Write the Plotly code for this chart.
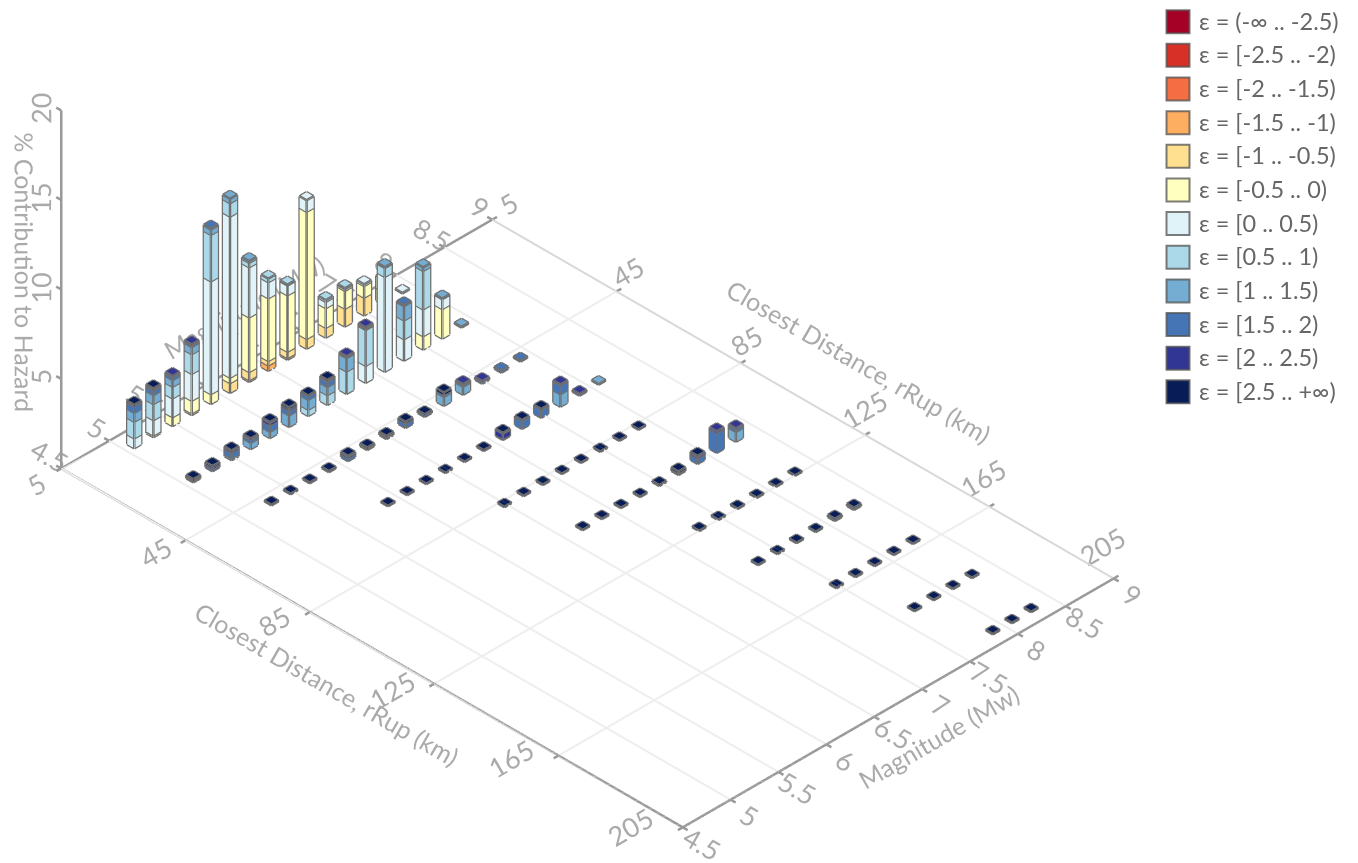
import plotly.graph_objects as go

EPS_LABELS = ["ε = (-∞ .. -2.5)", "ε = [-2.5 .. -2)", "ε = [-2 .. -1.5)", "ε = [-1.5 .. -1)",
              "ε = [-1 .. -0.5)", "ε = [-0.5 .. 0)", "ε = [0 .. 0.5)", "ε = [0.5 .. 1)",
              "ε = [1 .. 1.5)", "ε = [1.5 .. 2)", "ε = [2 .. 2.5)", "ε = [2.5 .. +∞)"]
EPS_COLORS = ["#a50026", "#d73027", "#f46d43", "#fdae61", "#fee090", "#ffffbf",
              "#e0f3f8", "#abd9e9", "#74add1", "#4575b4", "#313695", "#081d58"]

RRUP = [10, 29, 48, 67, 86, 105, 124, 143, 162, 181, 200]
MAGS = [[5.1, 5.3, 5.5, 5.7, 5.9, 6.1, 6.3, 6.5, 6.7, 6.9, 7.1, 7.3, 7.5, 7.7, 7.9],
        [5.1, 5.3, 5.5, 5.7, 5.9, 6.1, 6.3, 6.5, 6.7, 6.9, 7.1, 7.3, 7.5, 7.7, 7.9],
        [5.3, 5.5, 5.7, 5.9, 6.1, 6.3, 6.5, 6.7, 6.9, 7.1, 7.3, 7.5, 7.7, 7.9],
        [5.9, 6.1, 6.3, 6.5, 6.7, 6.9, 7.1, 7.3, 7.5, 7.7, 7.9, 8.1],
        [6.5, 6.7, 6.9, 7.1, 7.3, 7.5, 7.7, 7.9],
        [6.7, 6.9, 7.1, 7.3, 7.5, 7.7, 7.9, 8.1, 8.3],
        [7.3, 7.5, 7.7, 7.9, 8.1, 8.3],
        [7.3, 7.5, 7.7, 7.9, 8.1, 8.3],
        [7.5, 7.7, 7.9, 8.1, 8.3],
        [7.7, 7.9, 8.1, 8.3],
        [7.9, 8.1, 8.3]]

# each bar: % for eps bins [-1.5,-1) [-1,-.5) [-.5,0) [0,.5) [.5,1) [1,1.5) [1.5,2) [2,2.5) [2.5,inf)
R1 = [[0, 0, 0, .55, .93, .5, .35, .05, .05],
      [0, 0, .1, .85, .9, .5, .25, .05, .08],
      [0, 0, .5, 1.05, .65, .37, .15, .08, 0],
      [0, .1, .7, 1.5, 1.1, .4, .1, .05, 0],
      [0, 0, .55, 6.3, 2.6, .3, .05, 0, 0],
      [0, .55, .3, 9.0, .75, .25, 0, 0, 0],
      [.1, .45, 3.05, 2.8, .25, .1, 0, 0, 0],
      [.3, .25, 3.5, .9, .2, 0, 0, 0, 0],
      [.1, .35, 3.15, .55, .05, 0, 0, 0, 0],
      [0, .55, 7.1, .65, 0, 0, 0, 0, 0],
      [0, .55, 1.1, .35, .1, 0, 0, 0, 0],
      [0, 1.0, 1.0, .1, .05, 0, 0, 0, 0],
      [0, 1.0, .65, .1, 0, 0, 0, 0, 0],
      [0, .7, .7, 0, 0, 0, 0, 0, 0],
      [0, 0, 0, .03, 0, 0, 0, 0, 0]]
R2 = [[0, 0, 0, 0, 0, 0, .05, .05, .08],
      [0, 0, 0, 0, 0, 0, .1, .1, .1],
      [0, 0, 0, 0, 0, .1, .3, .1, .05],
      [0, 0, 0, 0, 0, .35, .15, .05, .05],
      [0, 0, 0, 0, 0, .35, .35, .15, .05],
      [0, 0, 0, 0, 0, .65, .25, .1, .1],
      [0, 0, 0, 0, .35, .55, .2, 0, .05],
      [0, 0, 0, 0, .55, .45, .3, .05, .05],
      [0, 0, 0, 0, 1.25, .75, .05, .05, 0],
      [0, 0, 0, .95, 2.0, .05, .05, .05, 0],
      [0, 0, 0, 5.3, .5, .05, 0, 0, 0],
      [0, 0, 0, 1.2, 1.05, .8, .05, 0, 0],
      [0, 0, .75, 1.5, 2.15, .2, 0, 0, 0],
      [0, 0, 1.65, .55, .02, .02, 0, 0, 0],
      [0, 0, 0, 0, 0, .04, 0, 0, 0]]
R3 = [[0, 0, 0, 0, 0, 0, 0, 0, .04],
      [0, 0, 0, 0, 0, 0, 0, 0, .04],
      [0, 0, 0, 0, 0, 0, 0, 0, .05],
      [0, 0, 0, 0, 0, 0, 0, .02, .05],
      [0, 0, 0, 0, 0, 0, .15, .1, .05],
      [0, 0, 0, 0, 0, 0, .05, .05, .05],
      [0, 0, 0, 0, 0, 0, .08, .05, .05],
      [0, 0, 0, 0, 0, 0, .25, 0, .1],
      [0, 0, 0, 0, 0, 0, .1, 0, .05],
      [0, 0, 0, 0, 0, .5, .1, 0, .15],
      [0, 0, 0, 0, 0, .45, .1, .05, 0],
      [0, 0, 0, 0, 0, 0, .1, .05, 0],
      [0, 0, 0, 0, 0, 0, .1, 0, 0],
      [0, 0, 0, 0, 0, 0, .05, 0, 0]]
R4 = [[0, 0, 0, 0, 0, 0, 0, 0, .03],
      [0, 0, 0, 0, 0, 0, 0, 0, .03],
      [0, 0, 0, 0, 0, 0, 0, 0, .03],
      [0, 0, 0, 0, 0, 0, 0, 0, .03],
      [0, 0, 0, 0, 0, 0, 0, 0, .03],
      [0, 0, 0, 0, 0, 0, 0, 0, .05],
      [0, 0, 0, 0, 0, 0, .05, .3, .05],
      [0, 0, 0, 0, 0, 0, .45, 0, .05],
      [0, 0, 0, 0, 0, 0, .45, 0, .05],
      [0, 0, 0, 0, 0, .7, .5, .05, 0],
      [0, 0, 0, 0, 0, 0, .05, .05, 0],
      [0, 0, 0, 0, 0, .03, 0, 0, 0]]
R5 = [[0, 0, 0, 0, 0, 0, 0, 0, .03]] * 8
R6 = [[0, 0, 0, 0, 0, 0, 0, 0, .03],
      [0, 0, 0, 0, 0, 0, 0, 0, .03],
      [0, 0, 0, 0, 0, 0, 0, 0, .03],
      [0, 0, 0, 0, 0, 0, 0, 0, .03],
      [0, 0, 0, 0, 0, 0, 0, 0, .06],
      [0, 0, 0, 0, 0, 0, .05, .05, .1],
      [0, 0, 0, 0, 0, 0, .3, .1, .05],
      [0, 0, 0, 0, 0, 0, 1.1, .1, 0],
      [0, 0, 0, 0, 0, .55, .15, .05, 0]]
R7 = [[0, 0, 0, 0, 0, 0, 0, 0, .03]] * 6
R8 = [[0, 0, 0, 0, 0, 0, 0, 0, .03],
      [0, 0, 0, 0, 0, 0, 0, 0, .03],
      [0, 0, 0, 0, 0, 0, 0, 0, .03],
      [0, 0, 0, 0, 0, 0, 0, 0, .03],
      [0, 0, 0, 0, 0, 0, .05, 0, .08],
      [0, 0, 0, 0, 0, 0, .05, 0, .08]]
R9 = [[0, 0, 0, 0, 0, 0, 0, 0, .03]] * 5
R10 = [[0, 0, 0, 0, 0, 0, 0, 0, .03]] * 4
R11 = [[0, 0, 0, 0, 0, 0, 0, 0, .03]] * 3
ROWS = [R1, R2, R3, R4, R5, R6, R7, R8, R9, R10, R11]

X_TICKS = [5, 45, 85, 125, 165, 205]
Y_TICKS = [4.5, 5, 5.5, 6, 6.5, 7, 7.5, 8, 8.5, 9]
Z_TICKS = [5, 10, 15, 20]
X_RANGE = [5, 205]
Y_RANGE = [4.5, 9]
Z_RANGE = [0, 20]
BAR_DX = 2.25
BAR_DY = 0.073
X_TITLE = "Closest Distance, rRup (km)"
Y_TITLE = "Magnitude (Mw)"
Z_TITLE = "% Contribution to Hazard"

FONT = "Lato, sans-serif"
TXT = "#aaaaaa"
AXC = "#999999"
W, H = 1350, 855
BASE_ASPECT = dict(x=2.056, y=1.4256, z=1.0256)
EYE = 1.25
CENTER = dict(x=0.158, y=0.158, z=-0.2607)
PX_XY = 608   # px slid sideways per scene unit of (x + y)
PX_Z = 351    # px slid vertically per scene unit of z
TICK_FONT = 18
TITLE_FONT = 25
STUB_X = 1.6   # km
STUB_Y = 0.05  # Mw
PAD_X = 2.0
PAD_Y = 0.06
XR = [X_RANGE[0] - PAD_X, X_RANGE[1] + PAD_X]
YR = [Y_RANGE[0] - PAD_Y, Y_RANGE[1] + PAD_Y]
ASPECT = dict(x=BASE_ASPECT["x"] * (XR[1] - XR[0]) / (X_RANGE[1] - X_RANGE[0]),
              y=BASE_ASPECT["y"] * (YR[1] - YR[0]) / (Y_RANGE[1] - Y_RANGE[0]),
              z=BASE_ASPECT["z"])
# x tick labels in the reference sit slightly closer together than their ticks
XR_LABELS = [105 - 106.8, 105 + 106.8]


def cam(dx=0.0, dy=0.0, up=(0, 0, 1)):
    """Same view, with the picture slid dx px right and dy px down."""
    c = dict(x=CENTER["x"] - dx / PX_XY, y=CENTER["y"] - dx / PX_XY, z=CENTER["z"] + dy / PX_Z)
    return dict(eye=dict(x=c["x"] + EYE, y=c["y"] - EYE, z=c["z"] + EYE),
                up=dict(x=up[0], y=up[1], z=up[2]), center=c, projection=dict(type="orthographic"))


def hidden(rng):
    return dict(range=rng, autorange=False, visible=False, showgrid=False, zeroline=False,
                showbackground=False, showspikes=False)


def shown(rng, title="", ticks=None, **kw):
    d = dict(range=rng, autorange=False, showgrid=False, zeroline=False, showbackground=False,
             showspikes=False, showline=False, ticks="",
             title=dict(text=title, font=dict(family=FONT, size=TITLE_FONT, color=TXT)),
             tickmode="array", tickvals=ticks or [], ticktext=[str(t) for t in (ticks or [])],
             showticklabels=bool(ticks), tickfont=dict(family=FONT, size=TICK_FONT, color=TXT))
    d.update(kw)
    return d


fig = go.Figure()
scenes = {}


def text_scene(axis_name, rng, title, ticks, dx, dy, up=(0, 0, 1), **kw):
    """A scene that carries only one axis's tick labels or title, slid into place."""
    name = "scene" if not scenes else f"scene{len(scenes) + 1}"
    axes = dict(xaxis=hidden(XR), yaxis=hidden(YR), zaxis=hidden(Z_RANGE))
    axes[axis_name + "axis"] = shown(rng, title, ticks, **kw)
    scenes[name] = dict(domain=dict(x=[0, 1], y=[0, 1]), aspectmode="manual", aspectratio=ASPECT,
                        camera=cam(dx, dy, up), **axes)
    fig.add_trace(go.Scatter3d(x=[X_TICKS[0]], y=[Y_TICKS[0]], z=[0], mode="markers",
                               marker=dict(size=1, color="white"), scene=name,
                               showlegend=False, hoverinfo="skip"))


text_scene("x", XR_LABELS, "", X_TICKS, -20.2, -2.3)
text_scene("x", XR, X_TITLE, None, -19.4, 22.3)
text_scene("x", XR_LABELS, "", X_TICKS, 454.7, -284.4)
text_scene("x", XR, X_TITLE, None, 515.5, -301.9)
text_scene("y", YR, "", Y_TICKS, -0.8, 5.6)
text_scene("y", YR, Y_TITLE, None, 14.5, 19.8)
text_scene("y", YR, "", Y_TICKS, -657, -384.5)
text_scene("y", YR, Y_TITLE, None, -684, -412.3)
text_scene("z", Z_RANGE, "", Z_TICKS, 4.9, -9.3, up=(0.006, 0.006, 1), tickangle=-90)
text_scene("z", Z_RANGE, Z_TITLE, None, -4.3, -29.8, up=(0.006, 0.006, 1))

MAIN = f"scene{len(scenes) + 1}"
scenes[MAIN] = dict(domain=dict(x=[0, 1], y=[0, 1]), aspectmode="manual", camera=cam(), aspectratio=ASPECT,
                    xaxis=hidden(XR), yaxis=hidden(YR), zaxis=hidden(Z_RANGE))

# floor grid
gx, gy, gz = [], [], []
for t in X_TICKS:
    gx += [t, t, None]; gy += [Y_RANGE[0], Y_RANGE[1], None]; gz += [0, 0, None]
for t in Y_TICKS:
    gx += [X_RANGE[0], X_RANGE[1], None]; gy += [t, t, None]; gz += [0, 0, None]
fig.add_trace(go.Scatter3d(x=gx, y=gy, z=gz, mode="lines", line=dict(color="#eeeeee", width=4),
                           scene=MAIN, showlegend=False, hoverinfo="skip"))
# back x edge
fig.add_trace(go.Scatter3d(x=X_RANGE, y=[Y_RANGE[1]] * 2, z=[0, 0], mode="lines", line=dict(color="#d8d8d8", width=4),
                           scene=MAIN, showlegend=False, hoverinfo="skip"))
# solid axis lines and tick stubs
ax_x = [X_RANGE[0], X_RANGE[1], X_RANGE[1], None, X_RANGE[0], X_RANGE[0], None, X_RANGE[0], X_RANGE[0]]
ax_y = [Y_RANGE[0], Y_RANGE[0], Y_RANGE[1], None, Y_RANGE[0], Y_RANGE[1], None, Y_RANGE[0], Y_RANGE[0]]
ax_z = [0, 0, 0, None, 0, 0, None, 0, Z_RANGE[1]]
for t in X_TICKS:
    ax_x += [None, t, t, None, t, t]
    ax_y += [None, Y_RANGE[0], Y_RANGE[0] - STUB_Y, None, Y_RANGE[1], Y_RANGE[1] + STUB_Y]
    ax_z += [None, 0, 0, None, 0, 0]
for t in Y_TICKS:
    ax_x += [None, X_RANGE[0], X_RANGE[0] - STUB_X, None, X_RANGE[1], X_RANGE[1] + STUB_X]
    ax_y += [None, t, t, None, t, t]
    ax_z += [None, 0, 0, None, 0, 0]
for t in Z_TICKS:
    ax_x += [None, X_RANGE[0], X_RANGE[0] - STUB_X]
    ax_y += [None, Y_RANGE[0], Y_RANGE[0]]
    ax_z += [None, t, t]
fig.add_trace(go.Scatter3d(x=ax_x, y=ax_y, z=ax_z, mode="lines", line=dict(color=AXC, width=5),
                           scene=MAIN, showlegend=False, hoverinfo="skip"))

# stacked boxes
FACES_I = [0, 0, 4, 4, 0, 0, 1, 1, 2, 2, 3, 3]
FACES_J = [1, 2, 5, 6, 1, 5, 2, 6, 3, 7, 0, 4]
FACES_K = [2, 3, 6, 7, 5, 4, 6, 5, 7, 6, 4, 7]
EDGES = [(0, 1), (1, 2), (2, 3), (3, 0), (4, 5), (5, 6), (6, 7), (7, 4), (0, 4), (1, 5), (2, 6), (3, 7)]
meshes = {c: dict(x=[], y=[], z=[], i=[], j=[], k=[]) for c in range(12)}
ex, ey, ez = [], [], []
for rrup, mags, row in zip(RRUP, MAGS, ROWS):
    for mag, vals in zip(mags, row):
        base = 0.0
        for off, v in enumerate(vals):
            if v <= 0:
                continue
            m = meshes[off + 3]
            top = base + v
            xs = [rrup - BAR_DX / 2, rrup + BAR_DX / 2, rrup + BAR_DX / 2, rrup - BAR_DX / 2] * 2
            ys = [mag - BAR_DY / 2, mag - BAR_DY / 2, mag + BAR_DY / 2, mag + BAR_DY / 2] * 2
            zs = [base] * 4 + [top] * 4
            n = len(m["x"])
            m["x"] += xs; m["y"] += ys; m["z"] += zs
            m["i"] += [n + a for a in FACES_I]; m["j"] += [n + a for a in FACES_J]; m["k"] += [n + a for a in FACES_K]
            for a, b in EDGES:
                ex += [xs[a], xs[b], None]; ey += [ys[a], ys[b], None]; ez += [zs[a], zs[b], None]
            base = top

for c in range(12):
    m = meshes[c]
    if not m["x"]:
        continue
    fig.add_trace(go.Mesh3d(x=m["x"], y=m["y"], z=m["z"], i=m["i"], j=m["j"], k=m["k"],
                            color=EPS_COLORS[c], opacity=1, flatshading=True, name=EPS_LABELS[c],
                            lighting=dict(ambient=1, diffuse=0, specular=0, roughness=1, fresnel=0),
                            scene=MAIN, showlegend=False, hoverinfo="skip"))
fig.add_trace(go.Scatter3d(x=ex, y=ey, z=ez, mode="lines", line=dict(color="#707070", width=5),
                           scene=MAIN, showlegend=False, hoverinfo="skip"))

# legend built from paper-anchored swatches and labels (page has an 8 px body margin)
shapes, annots = [], []
for idx, (lab, col) in enumerate(zip(EPS_LABELS, EPS_COLORS)):
    yc = 21.7 + 33.65 * idx - 8
    shapes.append(dict(type="rect", xref="paper", yref="paper", x0=(1166.5 - 8) / W, x1=(1189.5 - 8) / W,
                       y0=1 - (yc - 11.5) / H, y1=1 - (yc + 11.5) / H, fillcolor=col,
                       line=dict(color="rgba(80,80,80,0.75)", width=2)))
    annots.append(dict(xref="paper", yref="paper", x=(1197 - 8) / W, y=1 - (yc - 1) / H, xanchor="left", yanchor="middle",
                       showarrow=False, text=lab, font=dict(family=FONT, size=23.5, color="#666666")))

fig.update_layout(width=W, height=H, margin=dict(l=0, r=0, t=0, b=0), paper_bgcolor="white", showlegend=False,
                  shapes=shapes, annotations=annots, **scenes)
fig.write_html("out.html")
